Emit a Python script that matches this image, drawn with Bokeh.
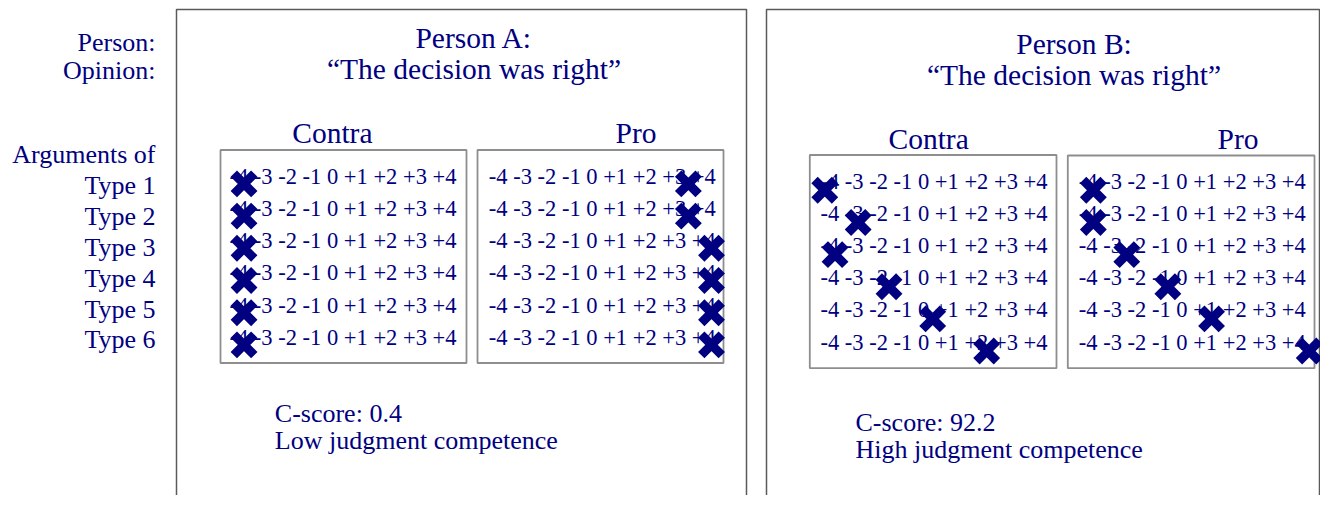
from bokeh.plotting import figure
from bokeh.models import Range1d
from bokeh.core.properties import value
from bokeh.embed import file_html
from bokeh.resources import INLINE

# ---------------- data ----------------
argument_types = ["Type 1", "Type 2", "Type 3", "Type 4", "Type 5", "Type 6"]
type_index = [1, 2, 3, 4, 5, 6]
scale_labels = ["-4", "-3", "-2", "-1", "0", "+1", "+2", "+3", "+4"]
row_labels = ["Person:", "Opinion:", "Arguments of"]
persons = ["Person A:", "Person B:"]
opinions = ["\u201cThe decision was right\u201d", "\u201cThe decision was right\u201d"]
sides = ["Contra", "Pro"]
# ratings as placed on the -4..+4 scale, per argument type
a_contra = [-3.8, -3.8, -3.8, -3.8, -3.8, -3.8]
a_pro = [3.4, 3.4, 4.3, 4.3, 4.3, 4.3]
b_contra = [-4.2, -2.9, -3.8, -1.7, 0.0, 2.1]
b_pro = [-3.8, -3.8, -2.5, -0.9, 0.8, 4.6]
c_scores = [0.4, 92.2]
competence = ["Low judgment competence", "High judgment competence"]

# ---------------- style / layout ----------------
NAVY = "#000080"
SERIF = value("Liberation Serif")
W, H = 1320, 495
X0, Y0 = 0, 0
STEP = 25.7      # px per scale point
HALF_M4 = 9.4    # px from text start to centre of "-4"
BASE_K = 0.34    # baseline correction (fraction of font size)


def ty(baseline, fs):
    return baseline - BASE_K * fs


p = figure(width=W, height=H, x_range=Range1d(X0, X0 + W), y_range=Range1d(Y0 + H, Y0),
           output_backend="svg", toolbar_location=None, min_border=0,
           x_axis_location=None, y_axis_location=None, outline_line_color=None,
           background_fill_color="white", border_fill_color="white")
p.xgrid.visible = False
p.ygrid.visible = False

# left labels
p.text(x=[155, 155, 155], y=[ty(b, 26) for b in (50.7, 79, 163.3)], text=row_labels,
       text_align="right", text_baseline="alphabetic", text_font=SERIF,
       text_font_size=value("26px"), text_color=NAVY)
p.text(x=[155] * 6, y=[ty(194.3 + 30.8 * i, 26) for i in range(6)], text=argument_types,
       text_align="right", text_baseline="alphabetic", text_font=SERIF,
       text_font_size=value("26px"), text_color=NAVY)

panels = [
    dict(key="A", outer=(176, 746), title_x=473.5, title_y=(47.3, 79.0), side_y=142.7,
         side_x=(291.7, 615.0), y1=183.4, dy=32.2, text_off=0.0, cs=(274.3, 421.7),
         boxes=[dict(key="A_con", lr=(220, 466), tb=(149.5, 362.5), tl=229.0, vals=a_contra),
                dict(key="A_pro", lr=(477, 723), tb=(149.5, 362.5), tl=488.3, vals=a_pro)]),
    dict(key="B", outer=(766, 1319), title_x=1073.5, title_y=(53.3, 85.0), side_y=148.3,
         side_x=(888.0, 1217.0), y1=189.8, dy=32.15, text_off=-1.3, cs=(855.0, 430.7),
         boxes=[dict(key="B_con", lr=(809.3, 1056), tb=(154.5, 367.7), tl=820.0, vals=b_contra),
                dict(key="B_pro", lr=(1067.3, 1314), tb=(155.0, 367.7), tl=1078.3, vals=b_pro)]),
]

row_string = " ".join(scale_labels)

for i, pan in enumerate(panels):
    # outer frame (open at the bottom, runs off the page)
    p.quad(left=[pan["outer"][0]], right=[pan["outer"][1]], top=[9], bottom=[560],
           fill_color=None, line_color="#5a5a5a", line_width=1.5)
    # titles
    p.text(x=[pan["title_x"]] * 2, y=[ty(b, 29.5) for b in pan["title_y"]],
           text=[persons[i], opinions[i]], text_align="center", text_baseline="alphabetic",
           text_font=SERIF, text_font_size=value("29.5px"), text_color=NAVY)
    p.text(x=list(pan["side_x"]), y=[ty(pan["side_y"], 29.5)] * 2, text=sides, text_align="left",
           text_baseline="alphabetic", text_font=SERIF, text_font_size=value("29.5px"),
           text_color=NAVY)
    # row range (argument type index -> vertical position)
    rname = "rows_" + pan["key"]
    y1, dy = pan["y1"], pan["dy"]
    p.extra_y_ranges[rname] = Range1d(1 + (Y0 + H - y1) / dy, 1 + (Y0 - y1) / dy)
    for b in pan["boxes"]:
        p.quad(left=[b["lr"][0]], right=[b["lr"][1]], top=[b["tb"][0]], bottom=[b["tb"][1]],
               fill_color=None, line_color="#8e8e8e", line_width=1.8)
        p.text(x=[b["tl"]] * 6, y=type_index, text=[row_string] * 6, y_range_name=rname,
               y_offset=pan["text_off"] - BASE_K * 22.5, text_align="left",
               text_baseline="alphabetic", text_font=SERIF, text_font_size=value("22.5px"),
               text_color=NAVY)
        xm4 = b["tl"] + HALF_M4
        xname = "scale_" + b["key"]
        p.extra_x_ranges[xname] = Range1d(-4 + (X0 - xm4) / STEP, -4 + (X0 + W - xm4) / STEP)
        p.scatter(x=b["vals"], y=type_index, x_range_name=xname, y_range_name=rname,
                  marker="x", size=29, line_width=9, line_color=NAVY)
    # C-score
    csx, csy = pan["cs"]
    p.text(x=[csx, csx], y=[ty(csy, 26), ty(csy + 27.6, 26)],
           text=["C-score: %s" % c_scores[i], competence[i]],
           text_align="left", text_baseline="alphabetic", text_font=SERIF,
           text_font_size=value("26px"), text_color=NAVY)

open("out.html", "w").write(file_html(p, INLINE))
